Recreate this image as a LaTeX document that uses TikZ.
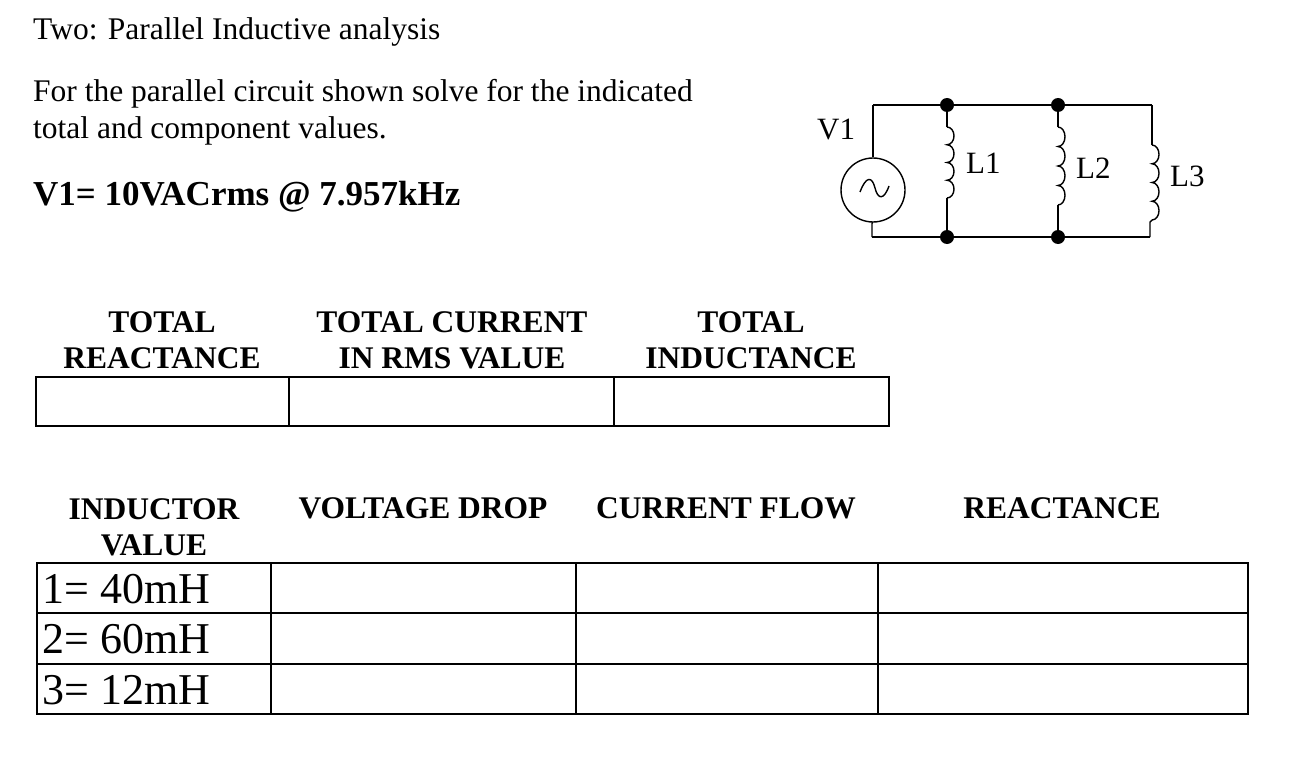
\documentclass[tikz,border=0pt]{standalone}
\usepackage{fontspec}
\setmainfont{Liberation Serif}
\begin{document}
\begin{tikzpicture}[x=1pt,y=-1pt,
  txt/.style={anchor=west,inner sep=0pt,font=\fontsize{31.5}{34}\selectfont},
  hdr/.style={align=center,inner sep=0pt,font=\bfseries\fontsize{31.5}{36}\selectfont},
  val/.style={anchor=west,inner sep=0pt,font=\fontsize{44}{46}\selectfont},
  cl/.style={anchor=west,inner sep=0pt,font=\fontsize{31}{32}\selectfont},
  wire/.style={line width=1.4pt},
  cell/.style={line width=1.3pt},
  dot/.style={circle,fill,inner sep=0pt,minimum size=14pt}]
\useasboundingbox[fill=white] (0,0) rectangle (1308,770);
\node[txt] (t1) at (33,32) {Two: Parallel Inductive analysis};
\node[txt] (t2) at (33,94) {For the parallel circuit shown solve for the indicated};
\node[txt] (t3) at (33,131) {total and component values.};
\node[txt,font=\bfseries\fontsize{35}{38}\selectfont] (t4) at (33,197) {V1= 10VACrms @ 7.957kHz};
% circuit
\coordinate (s1) at (873,105); \coordinate (s2) at (872,237);
\node[dot] (d1) at (947,105) {}; \node[dot] (d2) at (1058,105) {};
\node[dot] (d3) at (947,237) {}; \node[dot] (d4) at (1058,237) {};
\coordinate (r1) at (1152,105); \coordinate (r2) at (1150,237);
\node[circle,draw,wire,minimum size=64pt,inner sep=0pt] (src) at (873,190) {};
\draw[wire] (s1) -- (d1) -- (d2) -- (r1);
\draw[wire] (s2) -- (d3) -- (d4) -- (r2);
\draw[wire] (src.north) -- (s1);
\draw[wire] (src.south) -- (872,223) -- (s2);
\draw[wire] (860,192) .. controls (866,176) and (872,176) .. (875,188) .. controls (878,200) and (884,200) .. (889,186);
\foreach \x/\a/\b in {947/127/198, 1058/127/205, 1152/145/220}{
  \pgfmathsetmacro{\h}{(\b-\a)/4}
  \draw[wire] (\x,\a) \foreach \i in {0,...,3}{ arc[start angle=-90,end angle=90,x radius=7,y radius=\h/2] } ;
}
\draw[wire] (d1) -- (947,127); \draw[wire] (947,198) -- (d3);
\draw[wire] (d2) -- (1058,127); \draw[wire] (1058,205) -- (d4);
\draw[wire] (r1) -- (1152,145); \draw[wire] (1152,220) -- (1150,222) -- (r2);
\node[cl] (v1) at (817,130) {V1};
\node[cl] (l1) at (966,163) {L1};
\node[cl] (l2) at (1076,168) {L2};
\node[cl] (l3) at (1170,176) {L3};
% table 1
\node[hdr] (h1) at (162,340) {TOTAL\\REACTANCE};
\node[hdr] (h2) at (452,340) {TOTAL CURRENT\\IN RMS VALUE};
\node[hdr] (h3) at (751,340) {TOTAL\\INDUCTANCE};
\draw[cell] (36,377) rectangle (889,426);
\draw[cell] (289,377) -- (289,426) (614,377) -- (614,426);
% table 2
\node[hdr] (g1) at (154,527) {INDUCTOR\\VALUE};
\node[hdr] (g2) at (423,508) {VOLTAGE DROP};
\node[hdr] (g3) at (726,508) {CURRENT FLOW};
\node[hdr] (g4) at (1062,508) {REACTANCE};
\draw[cell] (37,563) rectangle (1248,714);
\draw[cell] (37,613) -- (1248,613) (37,664) -- (1248,664);
\draw[cell] (271,563) -- (271,714) (576,563) -- (576,714) (878,563) -- (878,714);
\node[val] (a1) at (42,589) {1= 40mH};
\node[val] (a2) at (42,639) {2= 60mH};
\node[val] (a3) at (42,690) {3= 12mH};
\end{tikzpicture}
\end{document}
